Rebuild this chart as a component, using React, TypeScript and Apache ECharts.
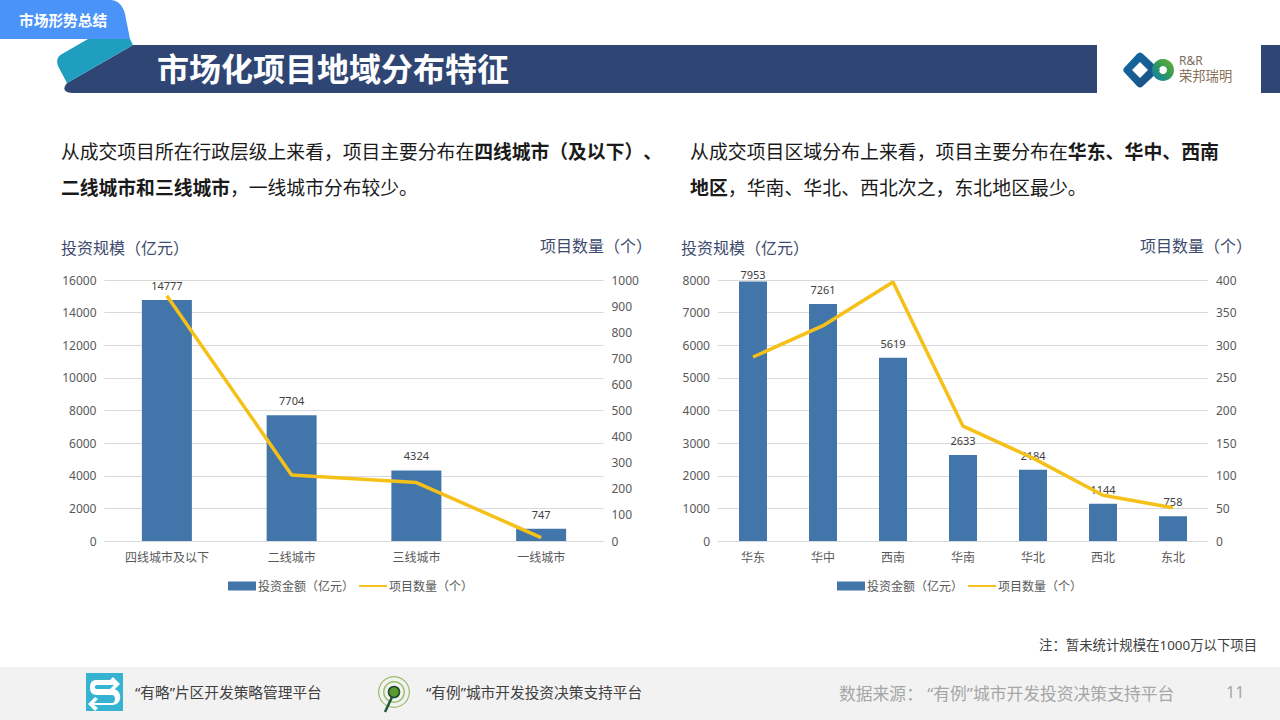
import React, { useEffect, useRef } from "react";
import * as echarts from "echarts";

const leftCategories = ["四线城市及以下", "二线城市", "三线城市", "一线城市"];
const leftAmounts = [14777, 7704, 4324, 747];
const leftCounts = [940, 253, 224, 13];
const rightCategories = ["华东", "华中", "西南", "华南", "华北", "西北", "东北"];
const rightAmounts = [7953, 7261, 5619, 2633, 2184, 1144, 758];
const rightCounts = [282, 330, 397, 176, 127, 70, 51];
const barName = "投资金额（亿元）";
const lineName = "项目数量（个）";
const FONT = '"Noto Sans", "Noto Sans CJK SC", sans-serif';
const LABEL = "#595959";
const GRID = "#d9d9d9";

echarts.graphic.registerShape("tabShape", echarts.graphic.extendPath("M0 0H110C118 0 123 6 125 14L130 39H0Z", {}));
echarts.graphic.registerShape("ribbonShape", echarts.graphic.extendPath("M88 39H130L133 45L67 83L58 66C56 60 58 56 62 54Z", {}));
echarts.graphic.registerShape("bannerShape", echarts.graphic.extendPath("M133 45H1097V93H72C66 93 63 90 65 86L67 83Z", {}));
echarts.graphic.registerShape("diamondShape", echarts.graphic.extendPath("M1137 54C1139 52 1141 52 1143 54L1160 70L1143 86C1141 88 1139 88 1137 86L1124 72C1123 71 1123 69 1124 68ZM1140 62L1132 70L1140 78L1148 70Z", {}));
echarts.graphic.registerShape("sIconShape", echarts.graphic.extendPath("M114 680H96C91 680 90 684 90 688C90 692 92 695 97 695H112C116 695 116 703 112 703H94L98 699L95 697L88 704L95 711L98 708L94 705H112C119 705 121 699 120 695C119 691 116 689 112 689H97C94 689 94 685 97 685H114L110 689L113 691L120 684L113 677L110 680Z", {}));

const axisText = { color: LABEL, fontSize: 12, fontFamily: FONT };

function barSeries(name: string, values: number[], xAxisIndex: number, yAxisIndex: number, width: number) {
  return {
    type: "bar", name, xAxisIndex, yAxisIndex, barWidth: width,
    itemStyle: { color: "#4276aa" },
    data: values.map((v) => (v === 7953 ? { value: v, label: { distance: 2 } } : v)),
    label: { show: true, position: "top", distance: 9, color: "#404040", fontSize: 11, fontFamily: FONT },
  };
}

function lineSeries(name: string, values: number[], xAxisIndex: number, yAxisIndex: number) {
  return {
    type: "line", name, xAxisIndex, yAxisIndex, data: values, symbol: "none",
    z: 5, lineStyle: { color: "#f5c017", width: 3.5 }, itemStyle: { color: "#f5c017" },
  };
}

function xAxis(data: string[], gridIndex: number) {
  return {
    type: "category", gridIndex, data,
    axisTick: { show: false },
    axisLine: { lineStyle: { color: GRID } },
    axisLabel: { ...axisText, margin: 10, interval: 0 },
  };
}

function yAxis(gridIndex: number, max: number, interval: number, split: boolean) {
  return {
    type: "value", gridIndex, min: 0, max, interval,
    axisLine: { show: false }, axisTick: { show: false },
    splitLine: { show: split, lineStyle: { color: GRID } },
    axisLabel: { ...axisText, margin: 8, padding: [0, 0, 1, 0], formatter: (v: number) => String(v) },
  };
}

function legend(left: number) {
  return {
    left, top: 580, padding: 0, itemWidth: 28, itemHeight: 9, itemGap: 4,
    data: [{ name: barName, icon: "rect" }, { name: lineName, itemStyle: { opacity: 0 } }],
    textStyle: { ...axisText, padding: [0, 0, 0, -3] },
  };
}

function text(x: number, y: number, t: string, fontSize: number, fill: string, extra: any = {}) {
  return {
    type: "text", x, y, z: 10,
    style: { text: t, fontSize, fill, fontFamily: FONT, textVerticalAlign: "middle", ...extra },
  };
}

function paragraph(x: number, y: number, t: string, size: number) {
  return {
    type: "text", x, y, z: 10,
    style: {
      text: t, fontFamily: FONT,
      rich: {
        n: { fontSize: size, lineHeight: 36, fill: "#1a1a1a", fontFamily: FONT },
        b: { fontSize: size, lineHeight: 36, fill: "#1a1a1a", fontFamily: FONT, fontWeight: "bold" },
      },
    },
  };
}

const logoBlue = { type: "linear", x: 0, y: 0, x2: 1, y2: 1, colorStops: [{ offset: 0, color: "#0f6aa8" }, { offset: 1, color: "#1d4f7e" }] };
const logoGreen = { type: "linear", x: 0, y: 1, x2: 1, y2: 0, colorStops: [{ offset: 0, color: "#0f78c0" }, { offset: 0.5, color: "#2f9a5a" }, { offset: 1, color: "#6fb02f" }] };

const graphics: any[] = [
  { type: "rect", z: 1, shape: { x: 0, y: 667, width: 1280, height: 53 }, style: { fill: "#f2f2f2" } },
  { type: "bannerShape", z: 2, style: { fill: "#2f4675" } },
  { type: "ribbonShape", z: 3, style: { fill: "#1f9ebf" } },
  { type: "tabShape", z: 4, style: { fill: "#4a93f8" } },
  { type: "rect", z: 2, shape: { x: 1261, y: 45, width: 19, height: 48 }, style: { fill: "#2f4675" } },
  text(19, 19.5, "市场形势总结", 14.7, "#ffffff", { fontWeight: "bold" }),
  text(157, 68.5, "市场化项目地域分布特征", 32, "#ffffff", { fontWeight: "bold" }),
  { type: "diamondShape", z: 5, style: { fill: logoBlue } },
  { type: "ring", z: 6, shape: { cx: 1163, cy: 70, r: 11, r0: 4 }, style: { fill: logoGreen } },
  text(1179, 60, "R&R", 12, "#7a6c60"),
  text(1179, 76, "荣邦瑞明", 13.3, "#8a6f58"),
  paragraph(61, 134, "{n|从成交项目所在行政层级上来看，项目主要分布在}{b|四线城市（及以下）}{b|、}\n{b|二线城市和三线城市}{n|，一线城市分布较少。}", 18.8),
  paragraph(690, 134, "{n|从成交项目区域分布上来看，项目主要分布在}{b|华东、华中、西南}\n{b|地区}{n|，华南、华北、西北次之，东北地区最少。}", 18.9),
  text(61, 248, "投资规模（亿元）", 16, "#3d4b6e"),
  text(540, 246, "项目数量（个）", 16, "#3d4b6e"),
  text(681, 248, "投资规模（亿元）", 16, "#3d4b6e"),
  text(1140, 246, "项目数量（个）", 16, "#3d4b6e"),
  text(1039, 645, "注：暂未统计规模在1000万以下项目", 13.4, "#404040"),
  { type: "rect", z: 5, shape: { x: 86, y: 673, width: 37, height: 38 }, style: { fill: "#35b3d0" } },
  { type: "sIconShape", z: 6, style: { fill: "#ffffff" } },
  text(135, 692, "“有略”片区开发策略管理平台", 14.7, "#404040"),
  { type: "ring", z: 5, shape: { cx: 394, cy: 692, r: 16, r0: 14.8 }, style: { fill: "#9dbb6a" } },
  { type: "ring", z: 5, shape: { cx: 394, cy: 692, r: 11, r0: 9.5 }, style: { fill: "#9dbb6a" } },
  { type: "line", z: 6, shape: { x1: 393, y1: 695, x2: 385, y2: 712 }, style: { stroke: "#1f5a38", lineWidth: 2.5 } },
  { type: "circle", z: 7, shape: { cx: 394, cy: 692, r: 5.5 }, style: { fill: "#5a9a32", stroke: "#1f4a2c", lineWidth: 1.5 } },
  text(426, 692, "“有例”城市开发投资决策支持平台", 14.7, "#404040"),
  text(839, 693, "数据来源： “有例”城市开发投资决策支持平台", 16.8, "#a6a6a6"),
  text(1226, 692, "11", 16, "#a6a6a6"),
];

const option: any = {
  animation: false,
  backgroundColor: "#ffffff",
  textStyle: { fontFamily: FONT },
  grid: [
    { left: 104.5, width: 499, top: 280, height: 261 },
    { left: 718, width: 490, top: 280, height: 261 },
  ],
  xAxis: [xAxis(leftCategories, 0), xAxis(rightCategories, 1)],
  yAxis: [
    yAxis(0, 16000, 2000, true),
    yAxis(0, 1000, 100, false),
    yAxis(1, 8000, 1000, true),
    yAxis(1, 400, 50, false),
  ],
  legend: [legend(228), legend(837)],
  series: [
    barSeries(barName, leftAmounts, 0, 0, 50),
    lineSeries(lineName, leftCounts, 0, 1),
    barSeries(barName, rightAmounts, 1, 2, 28),
    lineSeries(lineName, rightCounts, 1, 3),
  ],
  graphic: { elements: graphics },
};

export default function App() {
  const ref = useRef<HTMLDivElement>(null);
  useEffect(() => {
    document.body.style.margin = "0";
    const chart = echarts.init(ref.current!, undefined, { renderer: "svg" });
    chart.setOption(option);
    return () => chart.dispose();
  }, []);
  return <div ref={ref} style={{ width: 1280, height: 720 }} />;
}
